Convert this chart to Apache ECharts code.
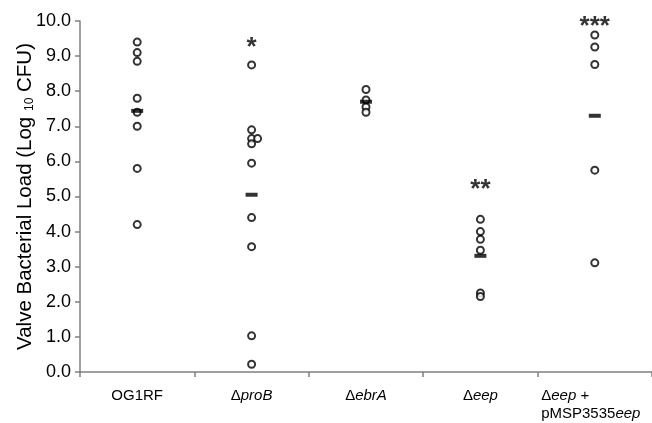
<!DOCTYPE html>
<html>
<head>
<meta charset="utf-8">
<script src="https://cdn.jsdelivr.net/npm/echarts@6/dist/echarts.min.js"></script>
<style>
  html, body { margin: 0; padding: 0; background: #fff; }
  #chart { width: 652px; height: 423px; }
</style>
</head>
<body>
<div id="chart"></div>
<script>
// strains on the x axis
const strains = ['OG1RF', 'proB', 'ebrA', 'eep', 'eep2']

// valve bacterial load per animal, log10 CFU
const og1rf = [9.4, 9.1, 8.85, 7.8, 7.4, 7.0, 5.8, 4.2]
const proB = [8.75, 6.9, 6.65, 6.65, 6.5, 5.95, 4.4, 3.57, 1.03, 0.22]
const ebrA = [8.05, 7.75, 7.55, 7.4]
const eep = [4.35, 4.0, 3.78, 3.47, 2.25, 2.15]
const eepComp = [9.6, 9.26, 8.76, 5.75, 3.11]

// group means (black dash)
const means = [7.44, 5.05, 7.7, 3.31, 7.3]

// significance stars and where they sit
const stars = ['', '*', '', '**', '***']
const starY = [null, 9.42, null, 5.35, 10.0]

// which point of the proB group is nudged sideways so it does not overlap
const proBNudged = 3

const groups = [og1rf, proB, ebrA, eep, eepComp]

let pts = []
groups.forEach((g, i) => {
  g.forEach((v, j) => {
    let item = { value: [i, v] }
    if (i === 1 && j === proBNudged) item.symbolOffset = [6, 0]
    pts.push(item)
  })
})

let chart = echarts.init(document.getElementById('chart'))
let option = {
  animation: false,
  textStyle: { fontFamily: 'Liberation Sans, Arial, sans-serif' },
  grid: { left: 80, right: -3, top: 21, bottom: 47 },
  xAxis: {
    type: 'category',
    data: strains,
    boundaryGap: true,
    axisLine: { lineStyle: { color: '#808080', width: 1.5 } },
    axisTick: { show: true, length: 5, lineStyle: { color: '#808080', width: 1.5 } },
    axisLabel: {
      interval: 0,
      margin: 15,
      color: '#000',
      fontSize: 15,
      lineHeight: 18,
      formatter: function (v) {
        if (v === 'OG1RF') return v
        if (v === 'eep2') return '{l|Δ}{li|eep}{l| +}\n{l|pMSP3535}{li|eep}{pad|}'
        return 'Δ{i|' + v + '}'
      },
      rich: {
        i: { fontStyle: 'italic', fontSize: 15 },
        l: { fontSize: 15, align: 'left' },
        li: { fontSize: 15, fontStyle: 'italic', align: 'left' },
        pad: { width: 8, align: 'left' }
      }
    }
  },
  yAxis: {
    type: 'value',
    min: 0,
    max: 10,
    interval: 1,
    name: '{a|Valve Bacterial Load (Log }{s|10}{a| CFU)}',
    nameLocation: 'middle',
    nameGap: 44,
    nameMoveOverlap: false,
    nameTextStyle: {
      rich: {
        a: { fontSize: 20.5, color: '#000' },
        s: { fontSize: 12, color: '#000', verticalAlign: 'bottom', padding: [8, 0, 0, 0] }
      }
    },
    splitLine: { show: false },
    axisLine: { show: true, lineStyle: { color: '#808080', width: 1.5 } },
    axisTick: { show: true, length: 5, lineStyle: { color: '#808080', width: 1.5 } },
    axisLabel: {
      color: '#000',
      fontSize: 18,
      margin: 9,
      formatter: v => v.toFixed(1)
    }
  },
  series: [
    {
      name: 'animals',
      type: 'scatter',
      symbol: 'circle',
      symbolSize: 7,
      itemStyle: { color: '#fff', borderColor: '#000', borderWidth: 2 },
      data: pts,
      z: 2
    },
    {
      name: 'mean',
      type: 'scatter',
      symbol: 'rect',
      symbolSize: [12, 4],
      itemStyle: { color: '#000' },
      data: means.map((m, i) => [i, m]),
      z: 3
    },
    {
      name: 'stars',
      type: 'scatter',
      symbolSize: 1,
      itemStyle: { color: 'transparent' },
      label: {
        show: true,
        position: 'inside',
        offset: [0, 6],
        color: '#000',
        fontSize: 26,
        fontWeight: 'bold',
        formatter: p => stars[p.dataIndex]
      },
      data: starY.map((y, i) => [i, y]),
      z: 4
    }
  ]
}
chart.setOption(option)
</script>
</body>
</html>
